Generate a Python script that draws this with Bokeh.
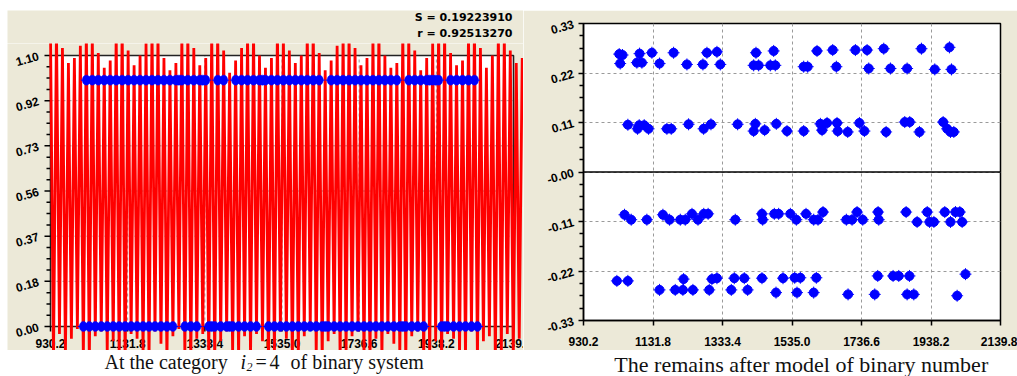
import numpy as np
from bokeh.plotting import figure
from bokeh.layouts import column, row
from bokeh.models import Range1d, FixedTicker, Span, Spacer
from bokeh.core.properties import value
from bokeh.embed import file_html
from bokeh.resources import INLINE

# ---------------- data ----------------
X_TICKS = [930.2, 1131.8, 1333.4, 1535.0, 1736.6, 1938.2, 2139.8]
X_TICK_LABELS = ["930.2", "1131.8", "1333.4", "1535.0", "1736.6", "1938.2", "2139.8"]

LEFT_Y_MAX = 1.10
LEFT_Y_TICK_LABELS = ["0.00", "0.18", "0.37", "0.56", "0.73", "0.92", "1.10"]

RIGHT_Y_TICKS = [-0.33, -0.22, -0.11, 0.0, 0.11, 0.22, 0.33]
RIGHT_Y_TICK_LABELS = ["-0.33", "-0.22", "-0.11", "-0.00", "0.11", "0.22", "0.33"]

S_TEXT = "S = 0.19223910"
R_TEXT = "r = 0.92513270"

# model curve: alternating highs and lows on a regular time grid
MODEL_START = 930.2
MODEL_STEP = 7.8
model_highs = [
    1.19, 1.21, 1.13, 1.07, 1.09, 1.14,
    1.20, 1.18, 1.11, 1.05, 1.08,
    1.19, 1.22, 1.12, 1.06, 1.10, 1.15,
    1.21, 1.19, 1.09, 1.04, 1.07,
    1.18, 1.20, 1.13, 1.06, 1.09,
    1.20, 1.21, 1.12, 1.03, 1.08, 1.13,
    1.19, 1.20, 1.10, 1.05, 1.09,
    1.21, 1.18, 1.12, 1.07, 1.10,
    1.20, 1.22, 1.11, 1.04, 1.08, 1.14,
    1.19, 1.20, 1.13, 1.06, 1.09,
    1.18, 1.21, 1.10, 1.05, 1.07,
    1.20, 1.19, 1.12, 1.04, 1.09, 1.15,
    1.21, 1.20, 1.11, 1.06, 1.08,
    1.19, 1.22, 1.13, 1.05, 1.10,
    1.20, 1.18, 1.12, 1.07, 1.09,
]
model_lows = [
    -0.14, -0.03, -0.12, -0.05, -0.01, -0.13,
    -0.15, -0.04, -0.02, -0.11, -0.06,
    -0.13, -0.16, -0.03, -0.05, -0.12,
    -0.14, -0.02, -0.07, -0.15, -0.04, -0.01,
    -0.12, -0.14, -0.05, -0.03, -0.13,
    -0.15, -0.06, -0.02, -0.11, -0.14, -0.04,
    -0.13, -0.03, -0.06, -0.15, -0.12,
    -0.02, -0.05, -0.14, -0.13, -0.04, -0.01,
    -0.12, -0.15, -0.06, -0.03, -0.14,
    -0.11, -0.04, -0.02, -0.13, -0.15, -0.05,
    -0.14, -0.03, -0.07, -0.12, -0.16,
    -0.04, -0.02, -0.13, -0.14, -0.06,
    -0.15, -0.03, -0.05, -0.12, -0.13, -0.02,
    -0.14, -0.06, -0.04, -0.15, -0.11, -0.03,
    -0.13, -0.05,
]

# observed binary series, starting at model point OBS_FIRST
OBS_FIRST = 11
observed = [
    0, 1, 0, 1, 0, 1, 0, 1, 0, 1,
    0, 1, 0, 1, 0, 1, 0, 1, 0, 1,
    0, 1, 0, 1, 0, 1, 0, 1, 0, 1,
    0, 1, 1, 1, 0, 1, 0, 1, 0, 1,
    1, 1, 0, 0, 0, 1, 0, 1, 0, 0,
    0, 1, 0, 1, 0, 1, 0, 1, 0, 1,
    1, 1, 0, 1, 0, 1, 0, 1, 0, 1,
    0, 1, 0, 1, 0, 1, 0, 1, 0, 1,
    0, 0, 0, 1, 0, 1, 0, 1, 0, 1,
    0, 1, 0, 1, 0, 1, 0, 1, 0, 1,
    0, 1, 0, 1, 0, 1, 0, 0, 0, 1,
    0, 1, 0, 1, 0, 1, 1, 1, 1, 1,
    0, 0, 0, 1, 0, 1, 0, 1, 0, 1,
    0, 1, 0,
]

# residuals after the model
res_x = [
    1033.8, 1043.4, 1036.6, 1092.8, 1085.0, 1099.6, 1128.6, 1150.8, 1191.5, 1230.2,
    1276.6, 1288.3, 1317.3, 1327.0, 1430.5, 1423.7, 1438.2, 1481.8, 1472.1, 1486.6,
    1568.9, 1580.5, 1607.6, 1653.1, 1663.7, 1718.9, 1752.8, 1757.6, 1801.1, 1820.5,
    1868.9, 1910.5, 1949.2, 1991.8, 1997.6,
    1058.9, 1087.0, 1091.8, 1106.3, 1118.9, 1172.1, 1184.7, 1235.0, 1278.6, 1299.9,
    1377.3, 1428.6, 1423.7, 1455.7, 1489.5, 1520.5, 1568.9, 1617.3, 1622.2, 1636.7,
    1665.6, 1667.6, 1696.6, 1730.5, 1745.0, 1808.0, 1862.1, 1876.6, 1904.7, 1973.4,
    1985.0, 1994.7, 2004.4,
    1049.2, 1068.6, 1114.0, 1160.5, 1179.9, 1211.0, 1225.4, 1244.9, 1262.3, 1279.1,
    1291.7, 1370.5, 1447.9, 1449.9, 1483.7, 1496.3, 1530.2, 1547.6, 1575.7, 1597.9,
    1610.5, 1625.0, 1692.7, 1709.2, 1723.7, 1740.2, 1784.7, 1786.6, 1866.0, 1897.9,
    1927.2, 1934.0, 1946.6, 1978.2, 1994.7, 2009.2, 2021.8, 2028.5,
    1027.0, 1058.9, 1150.8, 1196.3, 1218.5, 1220.5, 1247.6, 1295.0, 1302.8, 1317.3,
    1358.9, 1367.6, 1396.6, 1406.3, 1447.9, 1488.6, 1508.9, 1542.8, 1559.2, 1549.5,
    1597.9, 1605.6, 1697.6, 1775.0, 1783.7, 1828.2, 1844.7, 1868.9, 1875.7, 1888.3,
    2014.0, 2038.2,
]
res_y = [
    0.262, 0.260, 0.241, 0.263, 0.243, 0.243, 0.265, 0.241, 0.265, 0.239,
    0.239, 0.265, 0.267, 0.239, 0.265, 0.237, 0.237, 0.269, 0.237, 0.237,
    0.234, 0.234, 0.269, 0.271, 0.234, 0.271, 0.271, 0.230, 0.274, 0.230,
    0.230, 0.274, 0.228, 0.277, 0.228,
    0.105, 0.096, 0.104, 0.104, 0.096, 0.096, 0.096, 0.106, 0.096, 0.106,
    0.106, 0.107, 0.091, 0.093, 0.107, 0.091, 0.091, 0.107, 0.093, 0.109,
    0.109, 0.091, 0.089, 0.109, 0.091, 0.089, 0.111, 0.111, 0.089, 0.111,
    0.096, 0.089, 0.089,
    -0.095, -0.106, -0.106, -0.095, -0.106, -0.106, -0.106, -0.093, -0.106, -0.093,
    -0.093, -0.106, -0.093, -0.106, -0.093, -0.093, -0.093, -0.106, -0.093, -0.106,
    -0.106, -0.089, -0.106, -0.106, -0.089, -0.106, -0.089, -0.106, -0.089, -0.111,
    -0.089, -0.111, -0.111, -0.089, -0.111, -0.089, -0.089, -0.111,
    -0.242, -0.242, -0.262, -0.262, -0.262, -0.238, -0.262, -0.262, -0.238, -0.236,
    -0.262, -0.236, -0.236, -0.262, -0.236, -0.268, -0.236, -0.235, -0.235, -0.268,
    -0.268, -0.235, -0.272, -0.272, -0.231, -0.231, -0.231, -0.272, -0.231, -0.272,
    -0.275, -0.227,
]

# ---------------- styling ----------------
BEIGE = "#ECE9D8"
RED = "#FF0000"
BLUE = "#0000FF"
GRID = "#9a9a9a"
INK = "#111111"
TICK_FONT = "Liberation Sans"
SERIF = value("Liberation Serif")

n_model = len(model_lows) + len(model_highs)
model = np.empty(n_model)
model[0::2] = model_highs
model[1::2] = model_lows
model_x = MODEL_START + MODEL_STEP * np.arange(n_model)
obs_x = model_x[OBS_FIRST:OBS_FIRST + len(observed)]


def strip(width, height, x0, y0, fill):
    """A plain canvas whose data coordinates are page pixels (y downwards)."""
    f = figure(width=width, height=height,
               x_range=Range1d(x0, x0 + width), y_range=Range1d(y0 + height, y0),
               output_backend="svg", toolbar_location=None,
               x_axis_location=None, y_axis_location=None, min_border=0,
               outline_line_color=None, background_fill_color=fill,
               border_fill_color=fill)
    f.xgrid.visible = False
    f.ygrid.visible = False
    return f


# ---------------- left panel: series and model ----------------
L_X0, L_X1 = 7, 523            # page extent of the left panel
PLOT_L, PLOT_R = 50, 513       # plot box, page x
ZERO_Y, TOP_Y = 326, 55        # plot box, page y
L_TOP, L_BOTTOM = 43, 350      # drawing area, page y
px_x = (PLOT_R - PLOT_L) / (X_TICKS[-1] - X_TICKS[0])
px_y = (ZERO_Y - TOP_Y) / LEFT_Y_MAX


def lx(page_x):
    return X_TICKS[0] + (page_x - PLOT_L) / px_x


def ly(page_y):
    return (ZERO_Y - page_y) / px_y


head = strip(L_X1 - L_X0, L_TOP - 10, L_X0, 10, BEIGE)
head.text(x=[512, 512], y=[17, 32.5], text=[S_TEXT, R_TEXT],
          text_font=value("DejaVu Sans"), text_font_style="bold",
          text_font_size="11px", text_align="right", text_baseline="middle",
          text_color="black")

left = figure(width=L_X1 - L_X0, height=L_BOTTOM - L_TOP,
              x_range=Range1d(lx(L_X0), lx(L_X1)),
              y_range=Range1d(ly(L_BOTTOM), ly(L_TOP)),
              output_backend="svg", toolbar_location=None,
              x_axis_location=None, y_axis_location=None, min_border=0,
              background_fill_color=BEIGE, border_fill_color=BEIGE,
              outline_line_color=None)
left.xgrid.visible = False
left.ygrid.visible = False

left_ticks = [LEFT_Y_MAX * k / 6 for k in range(7)]
left_minor = [LEFT_Y_MAX * k / 24 for k in range(25) if k % 4]
x_lo, x_hi = X_TICKS[0], X_TICKS[-1]

# plot area, grid and frame
left.quad(left=[x_lo], right=[x_hi], bottom=[0], top=[LEFT_Y_MAX],
          fill_color="white", line_color=None)
inner_y = left_ticks[1:-1]
left.segment(x0=[x_lo] * len(inner_y), x1=[x_hi] * len(inner_y), y0=inner_y, y1=inner_y,
             line_color=GRID, line_dash="3 3", line_width=1)
inner_x = X_TICKS[1:-1]
left.segment(x0=inner_x, x1=inner_x, y0=[0] * len(inner_x), y1=[LEFT_Y_MAX] * len(inner_x),
             line_color=GRID, line_dash="3 3", line_width=1)
left.quad(left=[x_lo], right=[x_hi], bottom=[0], top=[LEFT_Y_MAX],
          fill_color=None, line_color="#222222", line_width=1.6)

# value axis: ticks and slanted labels
left.segment(x0=[lx(PLOT_L - 6)] * 7, x1=[x_lo] * 7, y0=left_ticks, y1=left_ticks,
             line_color="black", line_width=1.5)
left.segment(x0=[lx(PLOT_L - 4)] * len(left_minor), x1=[x_lo] * len(left_minor),
             y0=left_minor, y1=left_minor, line_color="black", line_width=1.5)
left.text(x=[lx(38)] * 7, y=left_ticks, text=LEFT_Y_TICK_LABELS, angle=0.28,
          text_font=value(TICK_FONT), text_font_style="bold", text_font_size="12px",
          text_align="right", text_baseline="middle", text_color="black")

# time axis: ticks and labels
left.segment(x0=X_TICKS, x1=X_TICKS, y0=[0] * 7, y1=[ly(ZERO_Y + 5)] * 7,
             line_color="black", line_width=1.5)
left.text(x=X_TICKS, y=[ly(343)] * 7, text=X_TICK_LABELS,
          text_font=value(TICK_FONT), text_font_style="bold", text_font_size="12px",
          text_align="center", text_baseline="middle", text_color="black")

left.line(model_x, model, line_color=RED, line_width=2.8)

left.ellipse(x=obs_x, y=observed, width=8, height=10,
             width_units="screen", height_units="screen",
             fill_color=BLUE, line_color=BLUE, line_width=0.5)
left.scatter(x=obs_x, y=observed, marker="dash", size=11, line_color=BLUE, line_width=1)

cap_left = strip(L_X1 - L_X0, 26, L_X0, 350, "white")
cap_kw = dict(text_font=SERIF, text_baseline="middle", text_color=INK)
cap_left.text(x=[104], y=[361.5], text=["At the category"], text_font_size="20px", **cap_kw)
cap_left.text(x=[240], y=[361.5], text=["i"], text_font_style="italic",
              text_font_size="20px", **cap_kw)
cap_left.text(x=[246], y=[366], text=["2"], text_font_style="italic",
              text_font_size="12px", **cap_kw)
cap_left.text(x=[255], y=[361.5], text=["="], text_font_size="20px", **cap_kw)
cap_left.text(x=[269], y=[361.5], text=["4"], text_font_size="20px", **cap_kw)
cap_left.text(x=[290], y=[361.5], text=["of binary system"], text_font_size="20px", **cap_kw)

# ---------------- right panel: residuals ----------------
R_X0, R_X1 = 523, 1017
right = figure(width=R_X1 - R_X0, height=340,
               x_range=Range1d(X_TICKS[0], X_TICKS[-1]),
               y_range=Range1d(RIGHT_Y_TICKS[0], RIGHT_Y_TICKS[-1]),
               output_backend="svg", toolbar_location=None,
               min_border_left=60, min_border_right=17,
               min_border_top=13, min_border_bottom=30,
               background_fill_color="white", border_fill_color=BEIGE,
               outline_line_color="black", outline_line_width=1.5)

xa = right.xaxis[0]
xa.ticker = FixedTicker(ticks=X_TICKS, minor_ticks=[])
xa.major_label_overrides = {t: s for t, s in zip(X_TICKS, X_TICK_LABELS)}
ra = right.yaxis[0]
ra_minor = [round(-0.33 + 0.0275 * k, 4) for k in range(25) if k % 4]
ra.ticker = FixedTicker(ticks=RIGHT_Y_TICKS, minor_ticks=ra_minor)
ra.major_label_overrides = {t: s for t, s in zip(RIGHT_Y_TICKS, RIGHT_Y_TICK_LABELS)}
ra.major_label_orientation = 0.28
for ax in (xa, ra):
    ax.axis_line_color = "black"
    ax.axis_line_width = 1.5
    ax.major_tick_line_color = "black"
    ax.major_tick_line_width = 1.5
    ax.minor_tick_line_color = "black"
    ax.minor_tick_line_width = 1.5
    ax.major_tick_out = 5
    ax.major_tick_in = 0
    ax.minor_tick_out = 4
    ax.minor_tick_in = 0
    ax.major_label_text_font = TICK_FONT
    ax.major_label_text_font_style = "bold"
    ax.major_label_text_font_size = "12px"
    ax.major_label_text_color = "black"
xa.major_label_standoff = 11
ra.major_label_standoff = 5

for g in (right.xgrid[0], right.ygrid[0]):
    g.grid_line_color = GRID
    g.grid_line_dash = "3 3"
    g.grid_line_width = 1
right.add_layout(Span(location=0, dimension="width", line_color="black", line_width=1.5))

right.scatter(x=res_x, y=res_y, size=9, fill_color=BLUE, line_color=BLUE)
right.scatter(x=res_x, y=res_y, marker="cross", size=12, line_color=BLUE, line_width=1)

cap_right = strip(R_X1 - R_X0, 26, R_X0, 350, "white")
cap_right.text(x=[781], y=[363.5], text=["The remains after model of binary number"],
               text_font_size="22px", text_align="center", **cap_kw)

layout = column(
    Spacer(width=1017, height=10),
    row(Spacer(width=L_X0, height=366),
        column(head, left, cap_left),
        column(right, cap_right)),
)

open("out.html", "w").write(file_html(layout, INLINE))
